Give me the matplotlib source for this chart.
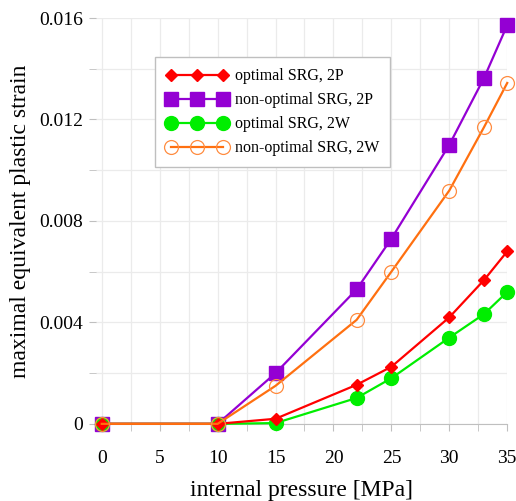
import numpy as np
import matplotlib
matplotlib.use("Agg")
import matplotlib.pyplot as plt
from matplotlib.ticker import MultipleLocator

plt.rcParams['font.family'] = ['Liberation Serif', 'DejaVu Serif']

pressure = [0, 10, 15, 22, 25, 30, 33, 35]
opt_2p = [0, 0, 0.0002, 0.00154, 0.00225, 0.0042, 0.00567, 0.0068]
nonopt_2p = [0, 0, 0.0020, 0.0053, 0.0073, 0.0110, 0.01364, 0.01572]
opt_2w = [0, 0, 0.00003, 0.00102, 0.0018, 0.0034, 0.00433, 0.0052]
nonopt_2w = [0, 0, 0.0015, 0.0041, 0.0060, 0.0092, 0.0117, 0.01344]

fig = plt.figure(figsize=(5.16, 5.01), dpi=100)
ax = fig.add_axes([0.186, 0.154, 0.797, 0.81])

ax.plot(pressure, opt_2p, color='#ff0000', lw=1.6, marker='D', ms=6,
        label='optimal SRG, 2P', clip_on=False, zorder=5)
ax.plot(pressure, nonopt_2p, color='#9400d3', lw=1.6, marker='s', ms=10,
        label='non-optimal SRG, 2P', clip_on=False, zorder=3)
ax.plot(pressure, opt_2w, color='#00ee00', lw=1.6, marker='o', ms=10,
        label='optimal SRG, 2W', clip_on=False, zorder=4)
ax.plot(pressure, nonopt_2w, color='#ff7010', lw=1.6, marker='o', ms=10,
        mfc='none', mec='#ff8c40', mew=0.9,
        label='non-optimal SRG, 2W', clip_on=False, zorder=6)

ax.set_xlim(-0.5, 35)
ax.set_ylim(0, 0.016)
ax.xaxis.set_major_locator(MultipleLocator(5))
ax.xaxis.set_minor_locator(MultipleLocator(2.5))
ax.yaxis.set_major_locator(MultipleLocator(0.004))
ax.yaxis.set_minor_locator(MultipleLocator(0.002))
ax.set_yticks([0, 0.004, 0.008, 0.012, 0.016])
ax.set_yticklabels(['0', '0.004', '0.008', '0.012', '0.016'])
ax.grid(True, which='both', color='#ebebeb', lw=0.9)
ax.set_axisbelow(True)

for s in ['top', 'right', 'left']:
    ax.spines[s].set_visible(False)
ax.spines['bottom'].set_color('#bfbfbf')
ax.tick_params(which='both', color='#bfbfbf', length=5, labelsize=14, pad=4)
ax.tick_params(axis='x', pad=14)

ax.set_xlabel('internal pressure [MPa]', fontsize=17, labelpad=9)
ax.set_ylabel('maximal equivalent plastic strain', fontsize=17, labelpad=6)

leg = ax.legend(loc='upper left', bbox_to_anchor=(0.300, 0.886),
                bbox_transform=fig.transFigure, numpoints=3, fontsize=11.5,
                fancybox=False, edgecolor='#bfbfbf', framealpha=1,
                handlelength=3.9, borderpad=0.7, labelspacing=0.5,
                handletextpad=0.4, borderaxespad=0)

fig.savefig('out.png', dpi=100)
